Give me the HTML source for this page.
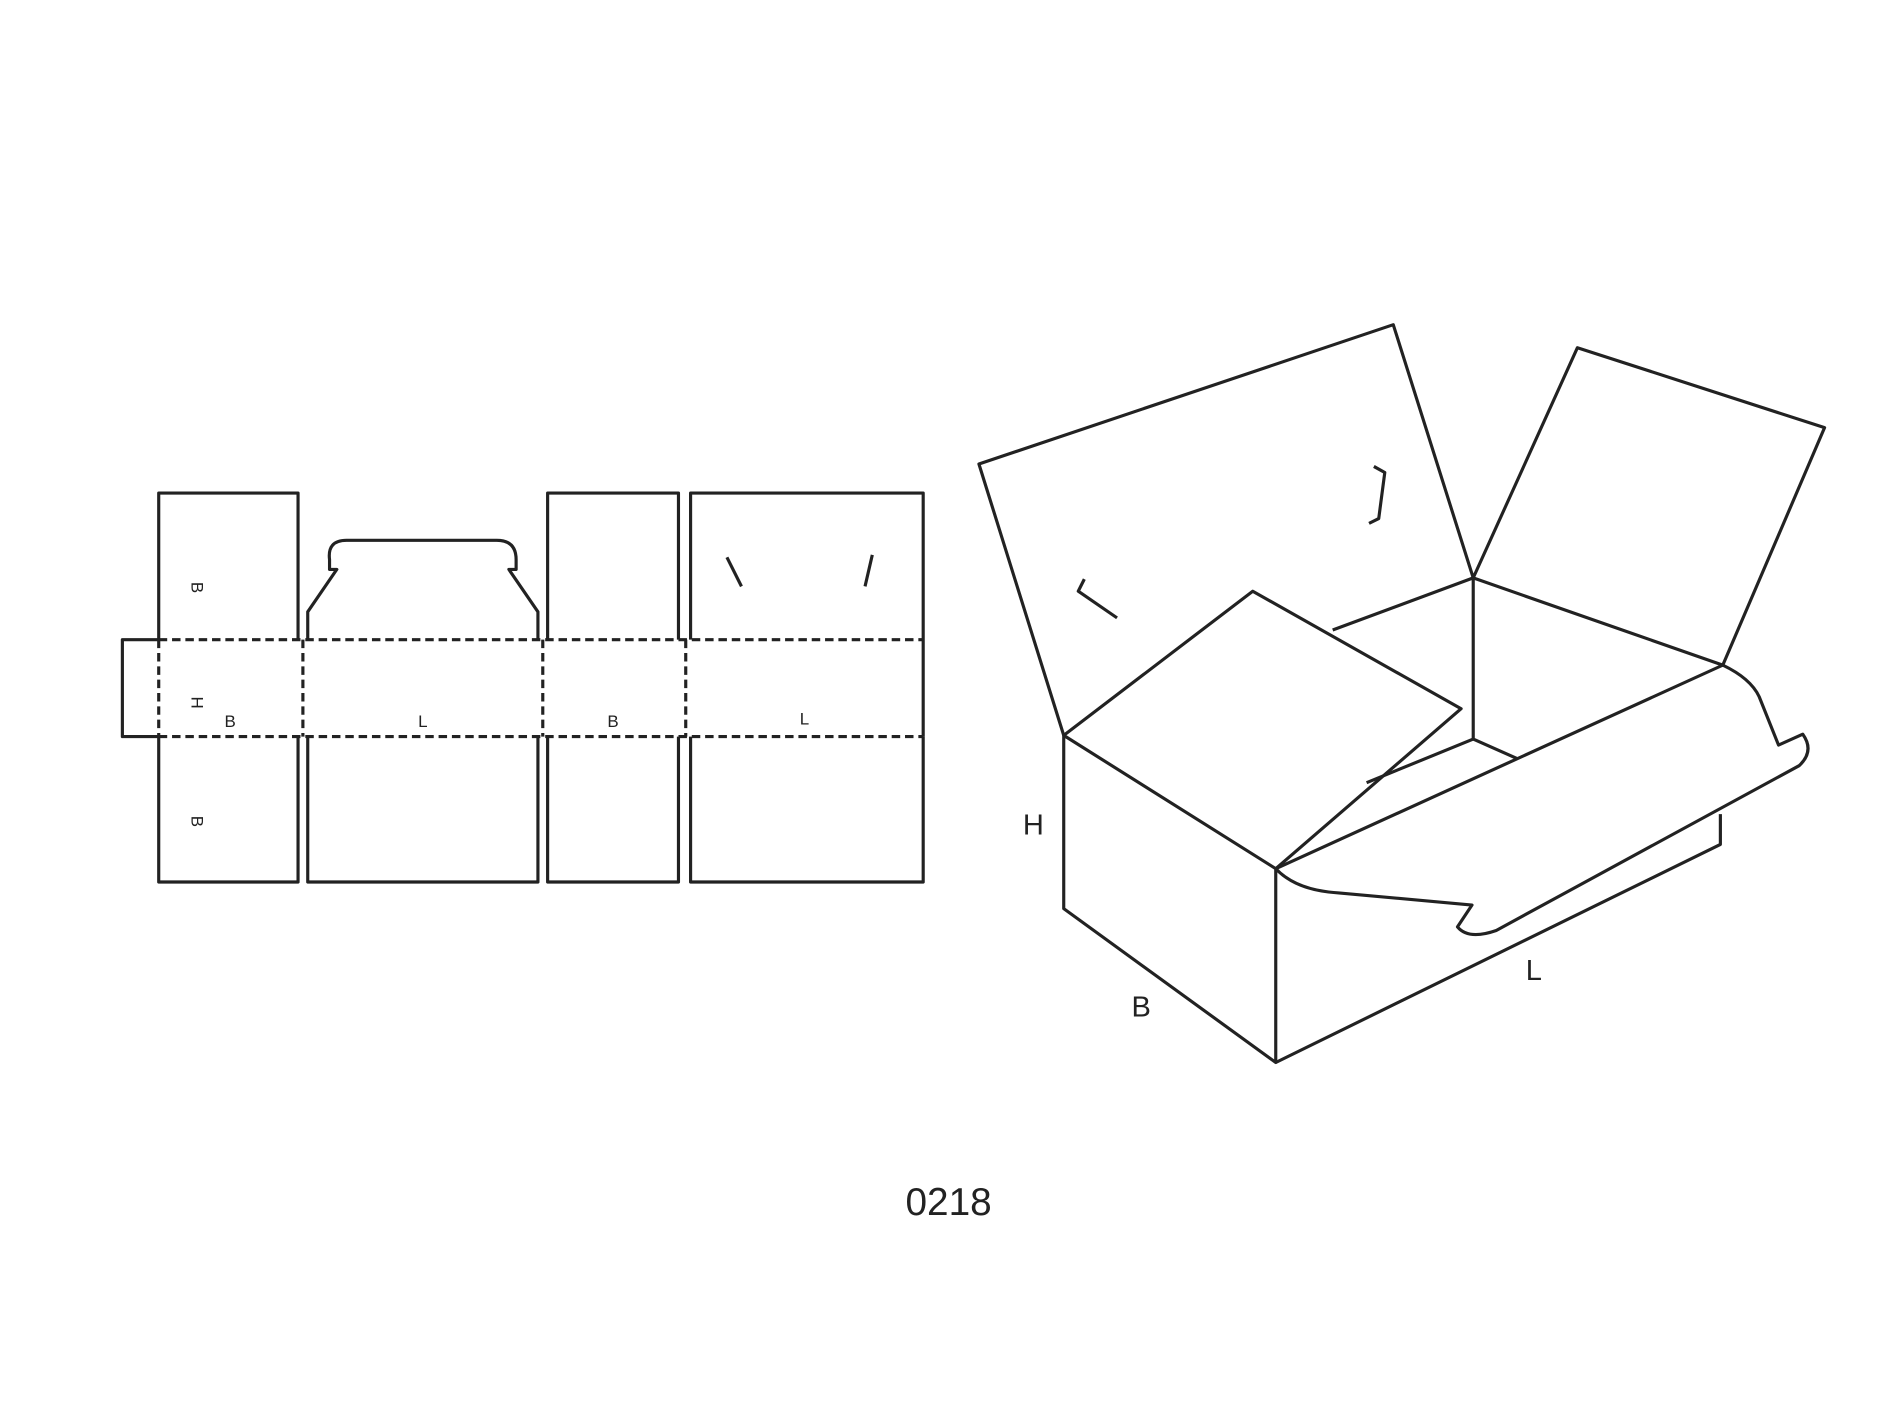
<!DOCTYPE html>
<html><head><style>html,body{margin:0;padding:0;background:#fff}svg{display:block}</style></head><body>
<svg width="1890" height="1417" viewBox="0 0 1560 1169.6" xmlns="http://www.w3.org/2000/svg">
<rect width="1560" height="1170" fill="#fff"/>
<g fill="none" stroke="#222" stroke-width="2.6" stroke-linejoin="round">
<!-- net -->
<path d="M131 528 V407 H246 V528"/>
<path d="M254 528 V505 L278 470 H272 V462 Q270 446 286 446 H410 Q426 446 426 462 V470 H420 L444 505 V528"/>
<path d="M452 528 V407 H560 V528"/>
<path d="M570 528 V407 H762 V608"/>
<path d="M131 528 H101 V608 H131"/>
<path d="M131 608 V728 H246 V608"/>
<path d="M254 608 V728 H444 V608"/>
<path d="M452 608 V728 H560 V608"/>
<path d="M570 608 V728 H762 V608"/>
<path d="M600 460 L612 484 M720 458 L714 484"/>
<g stroke-dasharray="7 4">
<path d="M131 528 H762 M131 608 H762 M131 528 V608 M250 528 V608 M448 528 V608 M566 528 V608"/>
</g>
<!-- box -->
<path d="M878 607 V750 L1053 877 V717 L878 607"/>
<path d="M1053 877 L1420 697 V672"/>
<path d="M878 607 L808 383 L1150 268 L1216 477"/>
<path d="M878 607 L1034 488 L1206 585 L1053 717"/>
<path d="M1100 520 L1216 477 L1422 549 L1506 353 L1302 287 L1216 477 V610 L1252 626"/>
<path d="M1216 610 L1128 646"/>
<path d="M1053 717 L1422 549 Q1445 560 1452 575 L1468 615 L1488 606 Q1498 620 1485 632 L1235 768 Q1212 776 1203 765 L1215 747 L1105 737 Q1070 735 1053 717"/>
<path d="M895 478 L890 488 L922 510 M1134 385 L1143 390 L1138 428 L1130 432"/>
</g>
<g font-family="Liberation Sans, sans-serif" fill="#222">
<text x="190" y="600" font-size="14" text-anchor="middle">B</text>
<text x="349" y="600" font-size="14" text-anchor="middle">L</text>
<text x="506" y="600" font-size="14" text-anchor="middle">B</text>
<text x="664" y="598" font-size="14" text-anchor="middle">L</text>
<text transform="translate(158,485) rotate(90)" font-size="14" text-anchor="middle">B</text>
<text transform="translate(158,678) rotate(90)" font-size="14" text-anchor="middle">B</text>
<text transform="translate(158,580) rotate(90)" font-size="14" text-anchor="middle">H</text>
<text x="853" y="689" font-size="24" text-anchor="middle">H</text>
<text x="942" y="839" font-size="24" text-anchor="middle">B</text>
<text x="1266" y="809" font-size="24" text-anchor="middle">L</text>
<text x="783" y="1003" font-size="32" text-anchor="middle">0218</text>
</g>
</svg>
</body></html>
